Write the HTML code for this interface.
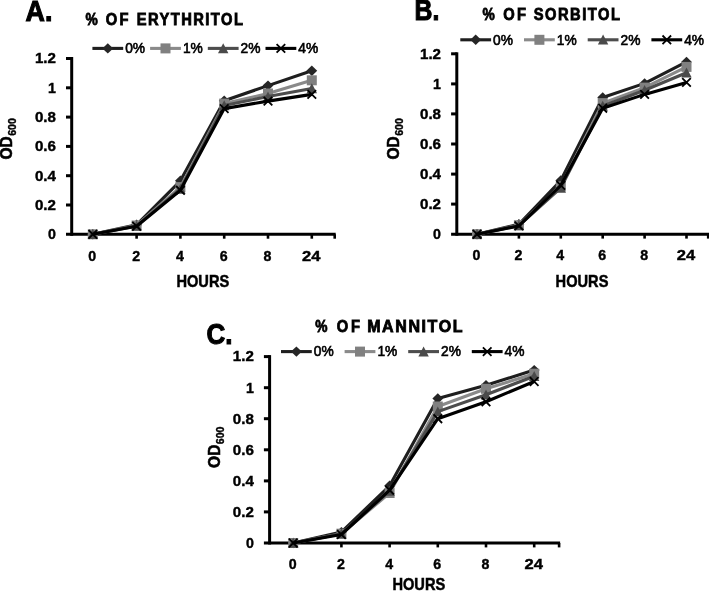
<!DOCTYPE html>
<html lang="en"><head><meta charset="utf-8"><title>Growth curves</title>
<style>html,body{margin:0;padding:0;background:#fff;}svg{display:block;}text{font-family:"Liberation Sans", "DejaVu Sans", sans-serif;fill:#000;}.b{font-weight:bold;}</style></head><body>
<svg width="709" height="591" viewBox="0 0 709 591">
<rect width="709" height="591" fill="#ffffff"/>
<g id="chart-A">
<text class="b" x="25.6" y="21.0" font-size="29.8" stroke="#000" stroke-width="1.1" textLength="26.8" lengthAdjust="spacingAndGlyphs">A.</text>
<text class="b" transform="translate(85.5,25.0) scale(0.86,1)" font-size="16" stroke="#000" stroke-width="0.8">%</text>
<text class="b" transform="translate(105.8,25.0) scale(0.92,1)" font-size="16" stroke="#000" stroke-width="0.8" textLength="24.8" lengthAdjust="spacing">OF</text>
<text class="b" transform="translate(136.8,25.0) scale(0.92,1)" font-size="16" stroke="#000" stroke-width="0.8" textLength="115.3" lengthAdjust="spacing">ERYTHRITOL</text>
<path d="M71.7,57.0 V235.8" stroke="#000" stroke-width="3" fill="none"/>
<path d="M66.0,234.3 H335.7" stroke="#000" stroke-width="3" fill="none"/>
<text class="b" x="55.9" y="239.1" font-size="14.2" stroke="#000" stroke-width="0.4" text-anchor="end">0</text>
<path d="M66.0,205.0 H71.7" stroke="#000" stroke-width="3"/>
<text class="b" x="55.9" y="209.8" font-size="14.2" stroke="#000" stroke-width="0.4" text-anchor="end" textLength="21" lengthAdjust="spacingAndGlyphs">0.2</text>
<path d="M66.0,175.7 H71.7" stroke="#000" stroke-width="3"/>
<text class="b" x="55.9" y="180.5" font-size="14.2" stroke="#000" stroke-width="0.4" text-anchor="end" textLength="21" lengthAdjust="spacingAndGlyphs">0.4</text>
<path d="M66.0,146.4 H71.7" stroke="#000" stroke-width="3"/>
<text class="b" x="55.9" y="151.2" font-size="14.2" stroke="#000" stroke-width="0.4" text-anchor="end" textLength="21" lengthAdjust="spacingAndGlyphs">0.6</text>
<path d="M66.0,117.1 H71.7" stroke="#000" stroke-width="3"/>
<text class="b" x="55.9" y="121.9" font-size="14.2" stroke="#000" stroke-width="0.4" text-anchor="end" textLength="21" lengthAdjust="spacingAndGlyphs">0.8</text>
<path d="M66.0,87.8 H71.7" stroke="#000" stroke-width="3"/>
<text class="b" x="55.9" y="92.6" font-size="14.2" stroke="#000" stroke-width="0.4" text-anchor="end">1</text>
<path d="M66.0,58.5 H71.7" stroke="#000" stroke-width="3"/>
<text class="b" x="55.9" y="63.3" font-size="14.2" stroke="#000" stroke-width="0.4" text-anchor="end" textLength="21" lengthAdjust="spacingAndGlyphs">1.2</text>
<path d="M92.8,234.3 V238.7" stroke="#000" stroke-width="2.6"/>
<text class="b" x="92.3" y="260.5" font-size="14.2" stroke="#000" stroke-width="0.4" text-anchor="middle">0</text>
<path d="M136.6,234.3 V238.7" stroke="#000" stroke-width="2.6"/>
<text class="b" x="136.1" y="260.5" font-size="14.2" stroke="#000" stroke-width="0.4" text-anchor="middle">2</text>
<path d="M180.4,234.3 V238.7" stroke="#000" stroke-width="2.6"/>
<text class="b" x="179.9" y="260.5" font-size="14.2" stroke="#000" stroke-width="0.4" text-anchor="middle">4</text>
<path d="M224.2,234.3 V238.7" stroke="#000" stroke-width="2.6"/>
<text class="b" x="223.7" y="260.5" font-size="14.2" stroke="#000" stroke-width="0.4" text-anchor="middle">6</text>
<path d="M268.0,234.3 V238.7" stroke="#000" stroke-width="2.6"/>
<text class="b" x="267.5" y="260.5" font-size="14.2" stroke="#000" stroke-width="0.4" text-anchor="middle">8</text>
<path d="M311.8,234.3 V238.7" stroke="#000" stroke-width="2.6"/>
<text class="b" x="311.3" y="260.5" font-size="14.2" stroke="#000" stroke-width="0.4" text-anchor="middle" textLength="18.4" lengthAdjust="spacingAndGlyphs">24</text>
<path d="M334.7,234.3 V238.7" stroke="#000" stroke-width="2.6"/>
<text class="b" x="202.8" y="286.8" font-size="16.4" stroke="#000" stroke-width="0.5" text-anchor="middle" textLength="52.8" lengthAdjust="spacingAndGlyphs">HOURS</text>
<text class="b" transform="translate(12.0,159.5) rotate(-90)" font-size="16.4" stroke="#000" stroke-width="0.55" textLength="23.2" lengthAdjust="spacingAndGlyphs">OD</text>
<text class="b" transform="translate(16.0,135.8) rotate(-90)" font-size="10.5" stroke="#000" stroke-width="0.4" textLength="17.6" lengthAdjust="spacingAndGlyphs">600</text>
<polyline fill="none" stroke="#1e1e1e" stroke-width="3.1" stroke-linejoin="round" points="92.8,234.3 136.6,224.8 180.4,180.8 224.2,100.8 268.0,85.6 311.8,70.7"/>
<polygon points="92.8,229.1 98.2,234.3 92.8,239.5 87.4,234.3" fill="#262626"/>
<polygon points="136.6,219.6 142.0,224.8 136.6,230.0 131.2,224.8" fill="#262626"/>
<polygon points="180.4,175.6 185.8,180.8 180.4,186.0 175.0,180.8" fill="#262626"/>
<polygon points="224.2,95.6 229.6,100.8 224.2,106.0 218.8,100.8" fill="#262626"/>
<polygon points="268.0,80.4 273.4,85.6 268.0,90.8 262.6,85.6" fill="#262626"/>
<polygon points="311.8,65.5 317.2,70.7 311.8,75.9 306.4,70.7" fill="#262626"/>
<polyline fill="none" stroke="#8a8a8a" stroke-width="3.1" stroke-linejoin="round" points="92.8,234.3 136.6,225.5 180.4,187.1 224.2,103.6 268.0,93.5 311.8,80.3"/>
<rect x="87.8" y="229.3" width="10" height="10" fill="#808080"/>
<rect x="131.6" y="220.5" width="10" height="10" fill="#808080"/>
<rect x="175.4" y="182.1" width="10" height="10" fill="#808080"/>
<rect x="219.2" y="98.6" width="10" height="10" fill="#808080"/>
<rect x="263.0" y="88.5" width="10" height="10" fill="#808080"/>
<rect x="306.8" y="75.3" width="10" height="10" fill="#808080"/>
<polyline fill="none" stroke="#4d4d4d" stroke-width="3.1" stroke-linejoin="round" points="92.8,234.3 136.6,225.9 180.4,188.9 224.2,105.4 268.0,96.6 311.8,88.4"/>
<polygon points="92.8,229.1 98.0,239.1 87.6,239.1" fill="#4a4a4a"/>
<polygon points="136.6,220.7 141.8,230.7 131.4,230.7" fill="#4a4a4a"/>
<polygon points="180.4,183.7 185.6,193.7 175.2,193.7" fill="#4a4a4a"/>
<polygon points="224.2,100.2 229.4,110.2 219.0,110.2" fill="#4a4a4a"/>
<polygon points="268.0,91.4 273.2,101.4 262.8,101.4" fill="#4a4a4a"/>
<polygon points="311.8,83.2 317.0,93.2 306.6,93.2" fill="#4a4a4a"/>
<polyline fill="none" stroke="#000000" stroke-width="3.1" stroke-linejoin="round" points="92.8,234.3 136.6,226.2 180.4,190.3 224.2,108.6 268.0,101.1 311.8,94.4"/>
<path d="M88.5,230.0 L97.1,238.6 M88.5,238.6 L97.1,230.0" stroke="#000" stroke-width="1.8" fill="none"/>
<path d="M132.3,221.9 L140.9,230.5 M132.3,230.5 L140.9,221.9" stroke="#000" stroke-width="1.8" fill="none"/>
<path d="M176.1,186.0 L184.7,194.7 M176.1,194.7 L184.7,186.0" stroke="#000" stroke-width="1.8" fill="none"/>
<path d="M219.9,104.3 L228.5,112.9 M219.9,112.9 L228.5,104.3" stroke="#000" stroke-width="1.8" fill="none"/>
<path d="M263.7,96.8 L272.3,105.4 M263.7,105.4 L272.3,96.8" stroke="#000" stroke-width="1.8" fill="none"/>
<path d="M307.5,90.1 L316.1,98.7 M307.5,98.7 L316.1,90.1" stroke="#000" stroke-width="1.8" fill="none"/>
<path d="M92.4,48.4 H123.2" stroke="#1e1e1e" stroke-width="3.1"/>
<polygon points="107.8,43.2 113.2,48.4 107.8,53.6 102.4,48.4" fill="#262626"/>
<text x="125.2" y="53.2" font-size="13.8" stroke="#000" stroke-width="0.6" textLength="19.9" lengthAdjust="spacingAndGlyphs">0%</text>
<path d="M150.1,48.4 H180.9" stroke="#8a8a8a" stroke-width="3.1"/>
<rect x="160.5" y="43.4" width="10" height="10" fill="#808080"/>
<text x="182.9" y="53.2" font-size="13.8" stroke="#000" stroke-width="0.6" textLength="19.9" lengthAdjust="spacingAndGlyphs">1%</text>
<path d="M207.8,48.4 H238.6" stroke="#4d4d4d" stroke-width="3.1"/>
<polygon points="223.2,43.2 228.4,53.2 218.0,53.2" fill="#4a4a4a"/>
<text x="240.6" y="53.2" font-size="13.8" stroke="#000" stroke-width="0.6" textLength="19.9" lengthAdjust="spacingAndGlyphs">2%</text>
<path d="M265.5,48.4 H296.3" stroke="#000000" stroke-width="3.1"/>
<path d="M276.6,44.1 L285.2,52.7 M276.6,52.7 L285.2,44.1" stroke="#000" stroke-width="1.8" fill="none"/>
<text x="298.3" y="53.2" font-size="13.8" stroke="#000" stroke-width="0.6" textLength="19.9" lengthAdjust="spacingAndGlyphs">4%</text>
</g>
<g id="chart-B">
<text class="b" x="414.6" y="19.6" font-size="29.8" stroke="#000" stroke-width="1.1" textLength="24.8" lengthAdjust="spacingAndGlyphs">B.</text>
<text class="b" transform="translate(482.5,20.4) scale(0.86,1)" font-size="16" stroke="#000" stroke-width="0.8">%</text>
<text class="b" transform="translate(503.3,20.4) scale(0.92,1)" font-size="16" stroke="#000" stroke-width="0.8" textLength="24.8" lengthAdjust="spacing">OF</text>
<text class="b" transform="translate(533.7,20.4) scale(0.92,1)" font-size="16" stroke="#000" stroke-width="0.8" textLength="93.8" lengthAdjust="spacing">SORBITOL</text>
<path d="M456.8,52.3 V235.7" stroke="#000" stroke-width="3" fill="none"/>
<path d="M451.1,234.2 H709.2" stroke="#000" stroke-width="3" fill="none"/>
<text class="b" x="441.0" y="239.0" font-size="14.2" stroke="#000" stroke-width="0.4" text-anchor="end">0</text>
<path d="M451.1,204.1 H456.8" stroke="#000" stroke-width="3"/>
<text class="b" x="441.0" y="208.9" font-size="14.2" stroke="#000" stroke-width="0.4" text-anchor="end" textLength="21" lengthAdjust="spacingAndGlyphs">0.2</text>
<path d="M451.1,174.1 H456.8" stroke="#000" stroke-width="3"/>
<text class="b" x="441.0" y="178.9" font-size="14.2" stroke="#000" stroke-width="0.4" text-anchor="end" textLength="21" lengthAdjust="spacingAndGlyphs">0.4</text>
<path d="M451.1,144.0 H456.8" stroke="#000" stroke-width="3"/>
<text class="b" x="441.0" y="148.8" font-size="14.2" stroke="#000" stroke-width="0.4" text-anchor="end" textLength="21" lengthAdjust="spacingAndGlyphs">0.6</text>
<path d="M451.1,113.9 H456.8" stroke="#000" stroke-width="3"/>
<text class="b" x="441.0" y="118.7" font-size="14.2" stroke="#000" stroke-width="0.4" text-anchor="end" textLength="21" lengthAdjust="spacingAndGlyphs">0.8</text>
<path d="M451.1,83.9 H456.8" stroke="#000" stroke-width="3"/>
<text class="b" x="441.0" y="88.7" font-size="14.2" stroke="#000" stroke-width="0.4" text-anchor="end">1</text>
<path d="M451.1,53.8 H456.8" stroke="#000" stroke-width="3"/>
<text class="b" x="441.0" y="58.6" font-size="14.2" stroke="#000" stroke-width="0.4" text-anchor="end" textLength="21" lengthAdjust="spacingAndGlyphs">1.2</text>
<path d="M477.0,234.2 V238.6" stroke="#000" stroke-width="2.6"/>
<text class="b" x="476.5" y="260.4" font-size="14.2" stroke="#000" stroke-width="0.4" text-anchor="middle">0</text>
<path d="M518.9,234.2 V238.6" stroke="#000" stroke-width="2.6"/>
<text class="b" x="518.4" y="260.4" font-size="14.2" stroke="#000" stroke-width="0.4" text-anchor="middle">2</text>
<path d="M560.8,234.2 V238.6" stroke="#000" stroke-width="2.6"/>
<text class="b" x="560.3" y="260.4" font-size="14.2" stroke="#000" stroke-width="0.4" text-anchor="middle">4</text>
<path d="M602.7,234.2 V238.6" stroke="#000" stroke-width="2.6"/>
<text class="b" x="602.2" y="260.4" font-size="14.2" stroke="#000" stroke-width="0.4" text-anchor="middle">6</text>
<path d="M644.6,234.2 V238.6" stroke="#000" stroke-width="2.6"/>
<text class="b" x="644.1" y="260.4" font-size="14.2" stroke="#000" stroke-width="0.4" text-anchor="middle">8</text>
<path d="M686.5,234.2 V238.6" stroke="#000" stroke-width="2.6"/>
<text class="b" x="686.0" y="260.4" font-size="14.2" stroke="#000" stroke-width="0.4" text-anchor="middle" textLength="18.4" lengthAdjust="spacingAndGlyphs">24</text>
<path d="M708.2,234.2 V238.6" stroke="#000" stroke-width="2.6"/>
<text class="b" x="582.0" y="287.0" font-size="16.4" stroke="#000" stroke-width="0.5" text-anchor="middle" textLength="52.8" lengthAdjust="spacingAndGlyphs">HOURS</text>
<text class="b" transform="translate(398.9,159.5) rotate(-90)" font-size="16.4" stroke="#000" stroke-width="0.55" textLength="23.2" lengthAdjust="spacingAndGlyphs">OD</text>
<text class="b" transform="translate(402.9,135.8) rotate(-90)" font-size="10.5" stroke="#000" stroke-width="0.4" textLength="17.6" lengthAdjust="spacingAndGlyphs">600</text>
<polyline fill="none" stroke="#1e1e1e" stroke-width="3.1" stroke-linejoin="round" points="477.0,234.2 518.9,224.3 560.8,180.5 602.7,97.5 644.6,83.4 686.5,61.9"/>
<polygon points="477.0,229.0 482.4,234.2 477.0,239.4 471.6,234.2" fill="#262626"/>
<polygon points="518.9,219.1 524.3,224.3 518.9,229.5 513.5,224.3" fill="#262626"/>
<polygon points="560.8,175.3 566.2,180.5 560.8,185.7 555.4,180.5" fill="#262626"/>
<polygon points="602.7,92.3 608.1,97.5 602.7,102.7 597.3,97.5" fill="#262626"/>
<polygon points="644.6,78.2 650.0,83.4 644.6,88.6 639.2,83.4" fill="#262626"/>
<polygon points="686.5,56.7 691.9,61.9 686.5,67.1 681.1,61.9" fill="#262626"/>
<polyline fill="none" stroke="#8a8a8a" stroke-width="3.1" stroke-linejoin="round" points="477.0,234.2 518.9,225.2 560.8,186.4 602.7,103.1 644.6,87.6 686.5,66.9"/>
<rect x="472.0" y="229.2" width="10" height="10" fill="#808080"/>
<rect x="513.9" y="220.2" width="10" height="10" fill="#808080"/>
<rect x="555.8" y="181.4" width="10" height="10" fill="#808080"/>
<rect x="597.7" y="98.1" width="10" height="10" fill="#808080"/>
<rect x="639.6" y="82.6" width="10" height="10" fill="#808080"/>
<rect x="681.5" y="61.9" width="10" height="10" fill="#808080"/>
<polyline fill="none" stroke="#4d4d4d" stroke-width="3.1" stroke-linejoin="round" points="477.0,234.2 518.9,225.5 560.8,187.9 602.7,106.0 644.6,90.2 686.5,72.7"/>
<polygon points="477.0,229.0 482.2,239.0 471.8,239.0" fill="#4a4a4a"/>
<polygon points="518.9,220.3 524.1,230.3 513.7,230.3" fill="#4a4a4a"/>
<polygon points="560.8,182.7 566.0,192.7 555.6,192.7" fill="#4a4a4a"/>
<polygon points="602.7,100.8 607.9,110.8 597.5,110.8" fill="#4a4a4a"/>
<polygon points="644.6,85.0 649.8,95.0 639.4,95.0" fill="#4a4a4a"/>
<polygon points="686.5,67.5 691.7,77.5 681.3,77.5" fill="#4a4a4a"/>
<polyline fill="none" stroke="#000000" stroke-width="3.1" stroke-linejoin="round" points="477.0,234.2 518.9,225.9 560.8,185.3 602.7,108.2 644.6,94.4 686.5,82.4"/>
<path d="M472.7,229.9 L481.3,238.5 M472.7,238.5 L481.3,229.9" stroke="#000" stroke-width="1.8" fill="none"/>
<path d="M514.6,221.6 L523.2,230.2 M514.6,230.2 L523.2,221.6" stroke="#000" stroke-width="1.8" fill="none"/>
<path d="M556.5,181.0 L565.1,189.6 M556.5,189.6 L565.1,181.0" stroke="#000" stroke-width="1.8" fill="none"/>
<path d="M598.4,103.9 L607.0,112.5 M598.4,112.5 L607.0,103.9" stroke="#000" stroke-width="1.8" fill="none"/>
<path d="M640.3,90.1 L648.9,98.7 M640.3,98.7 L648.9,90.1" stroke="#000" stroke-width="1.8" fill="none"/>
<path d="M682.2,78.1 L690.8,86.7 M682.2,86.7 L690.8,78.1" stroke="#000" stroke-width="1.8" fill="none"/>
<path d="M460.3,39.8 H491.1" stroke="#1e1e1e" stroke-width="3.1"/>
<polygon points="475.7,34.6 481.1,39.8 475.7,45.0 470.3,39.8" fill="#262626"/>
<text x="493.1" y="44.6" font-size="13.8" stroke="#000" stroke-width="0.6" textLength="19.9" lengthAdjust="spacingAndGlyphs">0%</text>
<path d="M524.0,39.8 H554.8" stroke="#8a8a8a" stroke-width="3.1"/>
<rect x="534.4" y="34.8" width="10" height="10" fill="#808080"/>
<text x="556.8" y="44.6" font-size="13.8" stroke="#000" stroke-width="0.6" textLength="19.9" lengthAdjust="spacingAndGlyphs">1%</text>
<path d="M587.7,39.8 H618.5" stroke="#4d4d4d" stroke-width="3.1"/>
<polygon points="603.1,34.6 608.3,44.6 597.9,44.6" fill="#4a4a4a"/>
<text x="620.5" y="44.6" font-size="13.8" stroke="#000" stroke-width="0.6" textLength="19.9" lengthAdjust="spacingAndGlyphs">2%</text>
<path d="M651.4,39.8 H682.2" stroke="#000000" stroke-width="3.1"/>
<path d="M662.5,35.5 L671.1,44.1 M662.5,44.1 L671.1,35.5" stroke="#000" stroke-width="1.8" fill="none"/>
<text x="684.2" y="44.6" font-size="13.8" stroke="#000" stroke-width="0.6" textLength="19.9" lengthAdjust="spacingAndGlyphs">4%</text>
</g>
<g id="chart-C">
<text class="b" x="206.6" y="344.0" font-size="29.8" stroke="#000" stroke-width="1.1" textLength="26.0" lengthAdjust="spacingAndGlyphs">C.</text>
<text class="b" transform="translate(315.2,331.6) scale(0.86,1)" font-size="16" stroke="#000" stroke-width="0.8">%</text>
<text class="b" transform="translate(336.8,331.6) scale(0.92,1)" font-size="16" stroke="#000" stroke-width="0.8" textLength="25.3" lengthAdjust="spacing">OF</text>
<text class="b" transform="translate(367.2,331.6) scale(1.0,1)" font-size="16" stroke="#000" stroke-width="0.8" textLength="95.3" lengthAdjust="spacing">MANNITOL</text>
<path d="M269.6,355.1 V544.5" stroke="#000" stroke-width="3" fill="none"/>
<path d="M263.9,543.0 H560.1" stroke="#000" stroke-width="3" fill="none"/>
<text class="b" x="253.8" y="547.8" font-size="14.2" stroke="#000" stroke-width="0.4" text-anchor="end">0</text>
<path d="M263.9,511.9 H269.6" stroke="#000" stroke-width="3"/>
<text class="b" x="253.8" y="516.7" font-size="14.2" stroke="#000" stroke-width="0.4" text-anchor="end" textLength="21" lengthAdjust="spacingAndGlyphs">0.2</text>
<path d="M263.9,480.9 H269.6" stroke="#000" stroke-width="3"/>
<text class="b" x="253.8" y="485.7" font-size="14.2" stroke="#000" stroke-width="0.4" text-anchor="end" textLength="21" lengthAdjust="spacingAndGlyphs">0.4</text>
<path d="M263.9,449.8 H269.6" stroke="#000" stroke-width="3"/>
<text class="b" x="253.8" y="454.6" font-size="14.2" stroke="#000" stroke-width="0.4" text-anchor="end" textLength="21" lengthAdjust="spacingAndGlyphs">0.6</text>
<path d="M263.9,418.7 H269.6" stroke="#000" stroke-width="3"/>
<text class="b" x="253.8" y="423.5" font-size="14.2" stroke="#000" stroke-width="0.4" text-anchor="end" textLength="21" lengthAdjust="spacingAndGlyphs">0.8</text>
<path d="M263.9,387.7 H269.6" stroke="#000" stroke-width="3"/>
<text class="b" x="253.8" y="392.5" font-size="14.2" stroke="#000" stroke-width="0.4" text-anchor="end">1</text>
<path d="M263.9,356.6 H269.6" stroke="#000" stroke-width="3"/>
<text class="b" x="253.8" y="361.4" font-size="14.2" stroke="#000" stroke-width="0.4" text-anchor="end" textLength="21" lengthAdjust="spacingAndGlyphs">1.2</text>
<path d="M293.2,543.0 V547.4" stroke="#000" stroke-width="2.6"/>
<text class="b" x="292.7" y="569.2" font-size="14.2" stroke="#000" stroke-width="0.4" text-anchor="middle">0</text>
<path d="M341.4,543.0 V547.4" stroke="#000" stroke-width="2.6"/>
<text class="b" x="340.9" y="569.2" font-size="14.2" stroke="#000" stroke-width="0.4" text-anchor="middle">2</text>
<path d="M389.6,543.0 V547.4" stroke="#000" stroke-width="2.6"/>
<text class="b" x="389.1" y="569.2" font-size="14.2" stroke="#000" stroke-width="0.4" text-anchor="middle">4</text>
<path d="M437.8,543.0 V547.4" stroke="#000" stroke-width="2.6"/>
<text class="b" x="437.3" y="569.2" font-size="14.2" stroke="#000" stroke-width="0.4" text-anchor="middle">6</text>
<path d="M486.0,543.0 V547.4" stroke="#000" stroke-width="2.6"/>
<text class="b" x="485.5" y="569.2" font-size="14.2" stroke="#000" stroke-width="0.4" text-anchor="middle">8</text>
<path d="M534.2,543.0 V547.4" stroke="#000" stroke-width="2.6"/>
<text class="b" x="533.7" y="569.2" font-size="14.2" stroke="#000" stroke-width="0.4" text-anchor="middle" textLength="18.4" lengthAdjust="spacingAndGlyphs">24</text>
<path d="M559.1,543.0 V547.4" stroke="#000" stroke-width="2.6"/>
<text class="b" x="418.8" y="590.3" font-size="16.4" stroke="#000" stroke-width="0.5" text-anchor="middle" textLength="52.8" lengthAdjust="spacingAndGlyphs">HOURS</text>
<text class="b" transform="translate(220.1,467.9) rotate(-90)" font-size="16.4" stroke="#000" stroke-width="0.55" textLength="23.2" lengthAdjust="spacingAndGlyphs">OD</text>
<text class="b" transform="translate(224.1,444.2) rotate(-90)" font-size="10.5" stroke="#000" stroke-width="0.4" textLength="17.6" lengthAdjust="spacingAndGlyphs">600</text>
<polyline fill="none" stroke="#1e1e1e" stroke-width="3.1" stroke-linejoin="round" points="293.2,543.0 341.4,532.1 389.6,485.8 437.8,398.5 486.0,385.3 534.2,370.1"/>
<polygon points="293.2,537.8 298.6,543.0 293.2,548.2 287.8,543.0" fill="#262626"/>
<polygon points="341.4,526.9 346.8,532.1 341.4,537.3 336.0,532.1" fill="#262626"/>
<polygon points="389.6,480.6 395.0,485.8 389.6,491.0 384.2,485.8" fill="#262626"/>
<polygon points="437.8,393.3 443.2,398.5 437.8,403.7 432.4,398.5" fill="#262626"/>
<polygon points="486.0,380.1 491.4,385.3 486.0,390.5 480.6,385.3" fill="#262626"/>
<polygon points="534.2,364.9 539.6,370.1 534.2,375.3 528.8,370.1" fill="#262626"/>
<polyline fill="none" stroke="#8a8a8a" stroke-width="3.1" stroke-linejoin="round" points="293.2,543.0 341.4,533.7 389.6,493.0 437.8,406.5 486.0,388.8 534.2,373.7"/>
<rect x="288.2" y="538.0" width="10" height="10" fill="#808080"/>
<rect x="336.4" y="528.7" width="10" height="10" fill="#808080"/>
<rect x="384.6" y="488.0" width="10" height="10" fill="#808080"/>
<rect x="432.8" y="401.5" width="10" height="10" fill="#808080"/>
<rect x="481.0" y="383.8" width="10" height="10" fill="#808080"/>
<rect x="529.2" y="368.7" width="10" height="10" fill="#808080"/>
<polyline fill="none" stroke="#4d4d4d" stroke-width="3.1" stroke-linejoin="round" points="293.2,543.0 341.4,533.7 389.6,491.0 437.8,411.6 486.0,394.7 534.2,376.2"/>
<polygon points="293.2,537.8 298.4,547.8 288.0,547.8" fill="#4a4a4a"/>
<polygon points="341.4,528.5 346.6,538.5 336.2,538.5" fill="#4a4a4a"/>
<polygon points="389.6,485.8 394.8,495.8 384.4,495.8" fill="#4a4a4a"/>
<polygon points="437.8,406.4 443.0,416.4 432.6,416.4" fill="#4a4a4a"/>
<polygon points="486.0,389.5 491.2,399.5 480.8,399.5" fill="#4a4a4a"/>
<polygon points="534.2,371.0 539.4,381.0 529.0,381.0" fill="#4a4a4a"/>
<polyline fill="none" stroke="#000000" stroke-width="3.1" stroke-linejoin="round" points="293.2,543.0 341.4,534.5 389.6,490.2 437.8,418.7 486.0,401.8 534.2,381.5"/>
<path d="M288.9,538.7 L297.5,547.3 M288.9,547.3 L297.5,538.7" stroke="#000" stroke-width="1.8" fill="none"/>
<path d="M337.1,530.2 L345.7,538.8 M337.1,538.8 L345.7,530.2" stroke="#000" stroke-width="1.8" fill="none"/>
<path d="M385.3,485.9 L393.9,494.5 M385.3,494.5 L393.9,485.9" stroke="#000" stroke-width="1.8" fill="none"/>
<path d="M433.5,414.4 L442.1,423.0 M433.5,423.0 L442.1,414.4" stroke="#000" stroke-width="1.8" fill="none"/>
<path d="M481.7,397.5 L490.3,406.1 M481.7,406.1 L490.3,397.5" stroke="#000" stroke-width="1.8" fill="none"/>
<path d="M529.9,377.2 L538.5,385.8 M529.9,385.8 L538.5,377.2" stroke="#000" stroke-width="1.8" fill="none"/>
<path d="M281.0,351.6 H311.8" stroke="#1e1e1e" stroke-width="3.1"/>
<polygon points="296.4,346.4 301.8,351.6 296.4,356.8 291.0,351.6" fill="#262626"/>
<text x="313.8" y="356.4" font-size="13.8" stroke="#000" stroke-width="0.6" textLength="19.9" lengthAdjust="spacingAndGlyphs">0%</text>
<path d="M344.6,351.6 H375.4" stroke="#8a8a8a" stroke-width="3.1"/>
<rect x="355.0" y="346.6" width="10" height="10" fill="#808080"/>
<text x="377.4" y="356.4" font-size="13.8" stroke="#000" stroke-width="0.6" textLength="19.9" lengthAdjust="spacingAndGlyphs">1%</text>
<path d="M408.2,351.6 H439.0" stroke="#4d4d4d" stroke-width="3.1"/>
<polygon points="423.6,346.4 428.8,356.4 418.4,356.4" fill="#4a4a4a"/>
<text x="441.0" y="356.4" font-size="13.8" stroke="#000" stroke-width="0.6" textLength="19.9" lengthAdjust="spacingAndGlyphs">2%</text>
<path d="M471.8,351.6 H502.6" stroke="#000000" stroke-width="3.1"/>
<path d="M482.9,347.3 L491.5,355.9 M482.9,355.9 L491.5,347.3" stroke="#000" stroke-width="1.8" fill="none"/>
<text x="504.6" y="356.4" font-size="13.8" stroke="#000" stroke-width="0.6" textLength="19.9" lengthAdjust="spacingAndGlyphs">4%</text>
</g>
</svg></body></html>
